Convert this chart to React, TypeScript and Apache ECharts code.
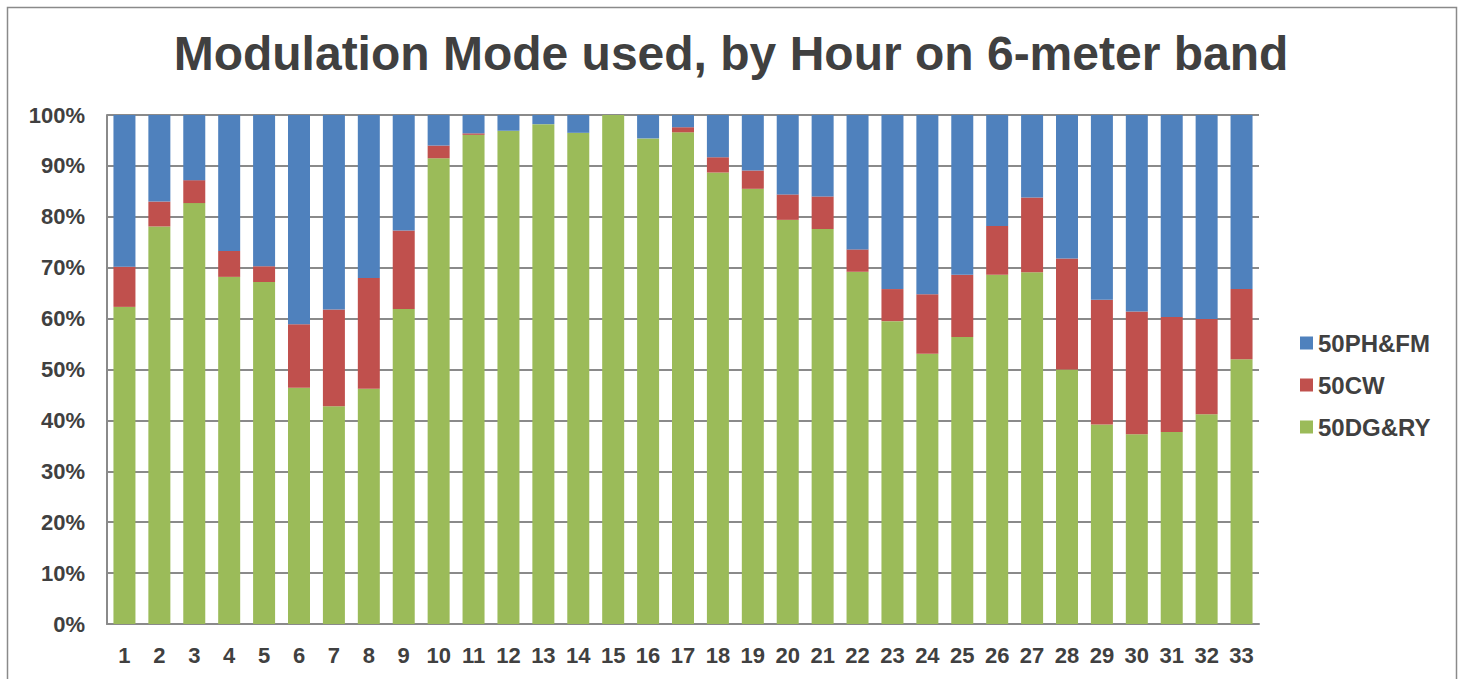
import React, { useEffect, useRef } from "react";
import * as echarts from "echarts";

const hours = ["1","2","3","4","5","6","7","8","9","10","11","12","13","14","15","16","17","18","19","20","21","22","23","24","25","26","27","28","29","30","31","32","33"];
const dgry = [62.3,78.1,82.7,68.2,67.2,46.4,42.8,46.2,61.9,91.5,96.1,96.9,98.2,96.5,100,95.4,96.6,88.7,85.5,79.4,77.6,69.2,59.5,53.1,56.4,68.6,69.1,50.0,39.2,37.3,37.7,41.2,52.0];
const cw = [7.9,4.9,4.5,5.1,3.1,12.5,19.0,21.8,15.4,2.5,0.3,0,0,0,0,0,1.0,3.0,3.6,5.0,6.4,4.4,6.3,11.7,12.2,9.6,14.7,21.8,24.5,24.1,22.6,18.7,13.8];
const phfm = [29.8,17.0,12.8,26.7,29.7,41.1,38.2,32.0,22.7,6.0,3.6,3.1,1.8,3.5,0,4.6,2.4,8.3,10.9,15.6,16.0,26.4,34.2,35.2,31.4,21.8,16.2,28.2,36.3,38.6,39.7,40.1,34.2];
const legendOrder = ["50PH&FM", "50CW", "50DG&RY"];
const titleText = "Modulation Mode used, by Hour on 6-meter band";

export default function App() {
  const ref = useRef<HTMLDivElement>(null);
  useEffect(() => {
    if (!ref.current) return;
    const chart = echarts.init(ref.current, null, { renderer: "svg" });
    const font = "'Liberation Sans', Arial, sans-serif";
    const barCommon = { type: "bar", stack: "total", barWidth: 22 };
    chart.setOption({
      animation: false,
      backgroundColor: "#ffffff",
      textStyle: { fontFamily: font },
      title: {
        text: titleText,
        left: "center",
        top: 24,
        textStyle: { fontSize: 48, fontWeight: "bold", color: "#404040", fontFamily: font },
      },
      graphic: [
        {
          type: "rect",
          shape: { x: 7.5, y: 7.5, width: 1449, height: 720 },
          style: { fill: "none", stroke: "#8a8a8a", lineWidth: 1.5 },
          silent: true,
        },
      ],
      legend: {
        data: legendOrder,
        orient: "vertical",
        left: 1300,
        top: 331,
        padding: 0,
        itemWidth: 13,
        itemHeight: 13,
        itemGap: 18,
        icon: "rect",
        textStyle: { fontSize: 24, fontWeight: "bold", color: "#404040", fontFamily: font },
      },
      grid: { left: 107, right: 203, top: 115, bottom: 55, containLabel: false },
      xAxis: {
        type: "category",
        data: hours,
        axisLine: { lineStyle: { color: "#8a8a8a", width: 2 } },
        axisTick: { show: false },
        axisLabel: { fontSize: 22, fontWeight: "bold", color: "#404040", margin: 20, interval: 0 },
      },
      yAxis: {
        type: "value",
        min: 0,
        max: 100,
        interval: 10,
        axisLine: { show: true, lineStyle: { color: "#8a8a8a", width: 2 } },
        axisTick: { show: false },
        axisLabel: { formatter: "{value}%", fontSize: 22, fontWeight: "bold", color: "#404040", margin: 22 },
        splitLine: { lineStyle: { color: "#8a8a8a", width: 2 } },
      },
      series: [
        { ...barCommon, name: "50DG&RY", data: dgry, itemStyle: { color: "#9BBB59" } },
        { ...barCommon, name: "50CW", data: cw, itemStyle: { color: "#C0504D" } },
        { ...barCommon, name: "50PH&FM", data: phfm, itemStyle: { color: "#4F81BD" } },
      ],
    });
    return () => chart.dispose();
  }, []);
  return (
    <div
      ref={ref}
      style={{ position: "fixed", left: 0, top: 0, width: 1462, height: 679 }}
    />
  );
}
